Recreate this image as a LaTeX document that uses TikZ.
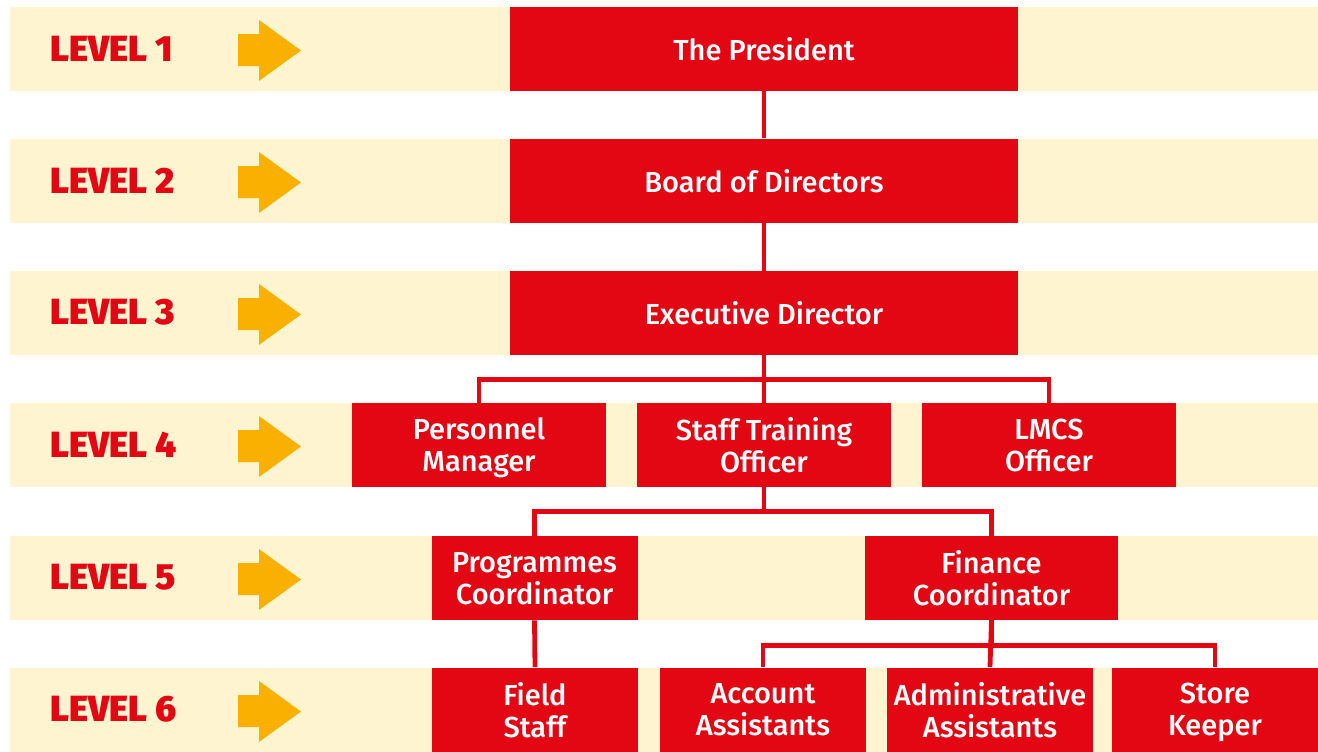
\documentclass[tikz,border=0pt]{standalone}
\usepackage{fontspec}
\setmainfont{Fira Sans}
\newfontfamily\lvlfont{Fira Sans Black}
\newfontfamily\rolefont{Fira Sans Medium}
\usepackage{tikz}
\usetikzlibrary{positioning}
\definecolor{orgred}{RGB}{227,6,19}
\definecolor{bandyellow}{RGB}{254,245,208}
\definecolor{arroworange}{RGB}{250,176,0}

\begin{document}
\begin{tikzpicture}[x=0.5pt,y=0.5pt,yscale=-1,xscale=1,
    role/.style={fill=orgred, text=white, inner sep=0pt, align=center,
        minimum height=42pt, text depth=0pt, font=\rolefont\fontsize{14.5}{16}\selectfont},
    wide/.style={role, minimum width=254pt},
    mid/.style={role, minimum width=127pt},
    small/.style={role, minimum width=103pt},
    link/.style={draw=orgred, line width=2.4pt},
    lvltext/.style={anchor=west, inner sep=0pt, text=orgred,
        font=\lvlfont\fontsize{18.2}{20}\selectfont}]
    \useasboundingbox (0,0) rectangle (1318,751);

    %Shape: Rectangle bands, arrows and level labels
    \foreach \t/\n in {7/1,139/2,271/3,403/4,536/5,668/6}{
        \fill [bandyellow] (10,\t) rectangle (1318,\t+84);
        \fill [arroworange] (238,\t+27) -- (259,\t+27) -- (259,\t+13) -- (301,\t+43.5)
            -- (259,\t+74) -- (259,\t+59) -- (238,\t+59) -- cycle;
        \node [lvltext] (lvl\n) at (50,\t+41.5) {LEVEL \n};
    }

    % Text Node
    \node [wide] (pres) at (764,49) {The President};
    % Text Node
    \node [wide] (board) at (764,180.5) {Board of Directors};
    % Text Node
    \node [wide] (exec) at (764,313) {Executive Director};
    % Text Node
    \node [mid] (pers) at (479,445) {Personnel\\Manager};
    \node [mid] (stoff) at (764,445) {Staff Training\\Officer};
    \node [mid] (lmcs) at (1049,445) {LMCS\\Officer};
    % Text Node
    \node [small] (prog) at (534.5,578) {Programmes\\Coordinator};
    \node [mid, minimum width=126.5pt] (fin) at (991.5,578) {Finance\\Coordinator};
    % Text Node
    \node [small] (field) at (535,709.5) {Field\\Staff};
    \node [small] (acc) at (763,709.5) {Account\\Assistants};
    \node [small] (adm) at (990,709.5) {Administrative\\Assistants};
    \node [small] (store) at (1215,709.5) {Store\\Keeper};

    %Straight Lines
    \draw [link] (pres.south) -- (board.north);
    \draw [link] (board.south) -- (exec.north);
    \draw [link] (exec.south) -- ++(0,24) -| (pers.north);
    \draw [link] (exec.south) -- ++(0,24) -| (lmcs.north);
    \draw [link] (exec.south) -- (stoff.north);
    \draw [link] (stoff.south) -- ++(0,24) -| (prog.north);
    \draw [link] (stoff.south) -- ++(0,24) -| (fin.north);
    \draw [link] (prog.south) -- (field.north);
    \draw [link] (fin.south) -- ++(0,25) -| (acc.north);
    \draw [link] (fin.south) -- ++(0,25) -| (store.north);
    \draw [link] (fin.south) -- (adm.north);

\end{tikzpicture}
\end{document}
